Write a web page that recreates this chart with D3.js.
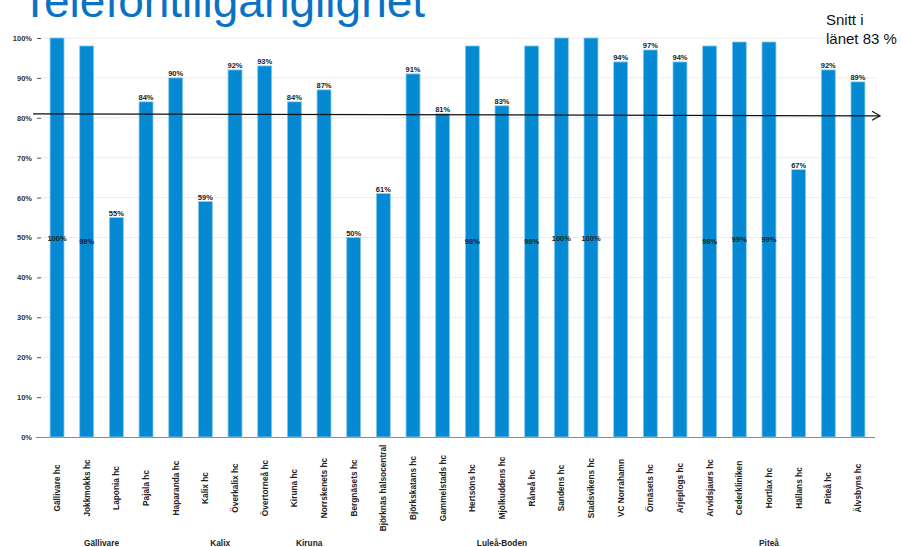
<!DOCTYPE html>
<html>
<head>
<meta charset="utf-8">
<script src="https://cdn.jsdelivr.net/npm/d3@7"></script>
<style>
  body { margin: 0; background: #fff; }
  svg { display: block; font-family: "Liberation Sans", Arial, sans-serif; }
</style>
</head>
<body>
<div id="chart"></div>
<script>
// units (health centres) and their share of answered calls, in percent
var units = ["Gällivare hc", "Jokkmokks hc", "Laponia hc", "Pajala hc", "Haparanda hc",
  "Kalix hc", "Överkalix hc", "Övertorneå hc", "Kiruna hc", "Norrskenets hc",
  "Bergnäsets hc", "Björknäs hälsocentral", "Björkskatans hc", "Gammelstads hc", "Hertsöns hc",
  "Mjölkuddens hc", "Råneå hc", "Sandens hc", "Stadsvikens hc", "VC Norrahamn",
  "Örnäsets hc", "Arjeplogs hc", "Arvidsjaurs hc", "Cederkliniken", "Hortlax hc",
  "Hällans hc", "Piteå hc", "Älvsbyns hc"];
var values = [100, 98, 55, 84, 90, 59, 92, 93, 84, 87,
  50, 61, 91, 81, 98, 83, 98, 100, 100, 94,
  97, 94, 98, 99, 99, 67, 92, 89];
var groups = ["Gällivare", "Kalix", "Kiruna", "Luleå-Boden", "Piteå"];
// first and last unit index of each group
var groupSpan = [[0, 3], [4, 7], [8, 9], [10, 20], [21, 27]];
var yTicks = [0, 10, 20, 30, 40, 50, 60, 70, 80, 90, 100];
var snittText = ["Snitt i", "länet 83 %"];
var snittLine = [81.0, 80.5]; // where the drawn arrow sits (start, end)

var W = 902, H = 547;
var plotL = 41, plotR = 875, plotT = 38, plotB = 437;

var svg = d3.select("#chart").append("svg")
  .attr("width", W).attr("height", H);

var x = d3.scaleBand().domain(units)
  .range([42.2, 872.8]).paddingInner(0.53).paddingOuter(0.265);
var y = d3.scaleLinear().domain([0, 100]).range([plotB, plotT]);

// title, cut at the top of the slide
svg.append("text")
  .attr("x", 21).attr("y", 17)
  .attr("font-size", 46)
  .attr("fill", "#0a72c4")
  .text("Telefontillgänglighet");

// grid
svg.append("g").selectAll("line")
  .data(yTicks.slice(1))
  .enter().append("line")
  .attr("x1", plotL).attr("x2", plotR)
  .attr("y1", function(d){ return y(d); })
  .attr("y2", function(d){ return y(d); })
  .attr("stroke", "#ececec").attr("stroke-width", 1);

// y axis
var yAxis = svg.append("g")
  .attr("transform", "translate(" + plotL + ",0)")
  .call(d3.axisLeft(y).tickValues(yTicks).tickSize(4).tickPadding(5)
    .tickFormat(function(d){ return d + "%"; }));
yAxis.select(".domain").remove();
yAxis.selectAll(".tick line").attr("stroke", "#555");
yAxis.selectAll("text")
  .attr("font-size", 7.5).attr("font-weight", "bold")
  .attr("fill", "#333").attr("font-family", "Liberation Sans, Arial, sans-serif");

// base line
svg.append("line")
  .attr("x1", plotL - 5).attr("x2", plotR)
  .attr("y1", y(0) + 0.5).attr("y2", y(0) + 0.5)
  .attr("stroke", "#888").attr("stroke-width", 1);

// bars
svg.append("g").selectAll("rect")
  .data(values)
  .enter().append("rect")
  .attr("x", function(d, i){ return x(units[i]); })
  .attr("y", function(d){ return y(d); })
  .attr("width", x.bandwidth())
  .attr("height", function(d){ return y(0) - y(d); })
  .attr("fill", "#0489d2")
  .attr("stroke", "#86c9ee").attr("stroke-width", 0.8);

// value labels: above the bar, or mid-bar for the tallest ones
svg.append("g").selectAll("text")
  .data(values)
  .enter().append("text")
  .attr("x", function(d, i){ return x(units[i]) + x.bandwidth() / 2; })
  .attr("y", function(d){ return d >= 98 ? y(d / 2) + 3 : y(d) - 2; })
  .attr("text-anchor", "middle")
  .attr("font-size", 7.5).attr("font-weight", "bold")
  .attr("fill", "#222")
  .text(function(d){ return d + "%"; });

// unit names, rotated
svg.append("g").selectAll("text")
  .data(units)
  .enter().append("text")
  .attr("transform", function(d){
    return "translate(" + (x(d) + x.bandwidth() / 2 + 3) + ",488) rotate(-90)";
  })
  .attr("text-anchor", "middle")
  .attr("font-size", 8.3).attr("font-weight", "bold")
  .attr("fill", "#222")
  .text(function(d){ return d; });

// group names
svg.append("g").selectAll("text")
  .data(groups)
  .enter().append("text")
  .attr("x", function(d, i){
    var a = units[groupSpan[i][0]], b = units[groupSpan[i][1]];
    return (x(a) + x(b) + x.bandwidth()) / 2;
  })
  .attr("y", 546)
  .attr("text-anchor", "middle")
  .attr("font-size", 8.3).attr("font-weight", "bold")
  .attr("fill", "#222")
  .text(function(d){ return d; });

// county average arrow
svg.append("defs").append("marker")
  .attr("id", "arr").attr("viewBox", "0 0 10 10")
  .attr("refX", 9).attr("refY", 5)
  .attr("markerWidth", 10).attr("markerHeight", 10)
  .attr("markerUnits", "userSpaceOnUse")
  .attr("orient", "auto")
  .append("path").attr("d", "M1,0.5 L9,5 L1,9.5")
  .attr("fill", "none").attr("stroke", "#111").attr("stroke-width", 1.2);

svg.append("line")
  .attr("x1", 33).attr("x2", 880)
  .attr("y1", y(snittLine[0])).attr("y2", y(snittLine[1]))
  .attr("stroke", "#111").attr("stroke-width", 1.3)
  .attr("marker-end", "url(#arr)");

svg.append("g").selectAll("text")
  .data(snittText)
  .enter().append("text")
  .attr("x", 826)
  .attr("y", function(d, i){ return 25 + i * 19; })
  .attr("font-size", 15)
  .attr("fill", "#111")
  .text(function(d){ return d; });
</script>
</body>
</html>
